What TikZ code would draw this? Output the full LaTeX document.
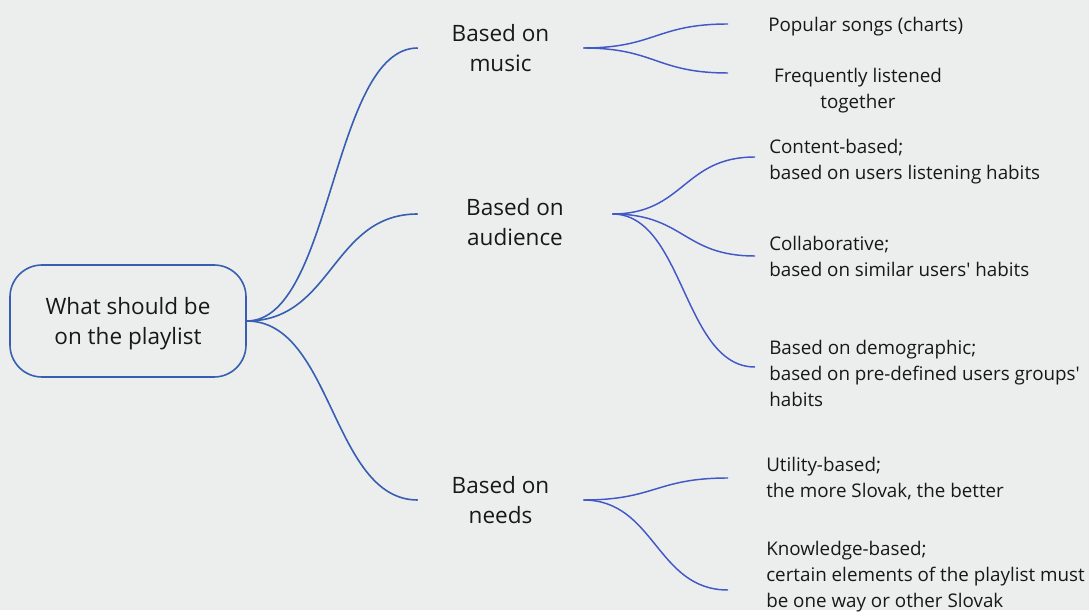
\documentclass[tikz,border=0pt]{standalone}
\usepackage{fontspec}
\setmainfont{Open Sans}
\usetikzlibrary{positioning}
\definecolor{mbg}{RGB}{236,238,238}
\definecolor{mblue}{RGB}{55,94,178}
\definecolor{mleaf}{RGB}{66,88,198}
\definecolor{mtext}{RGB}{24,24,24}

\begin{document}
\begin{tikzpicture}[x=0.75pt, y=-0.75pt,
  root/.style={draw=mblue, fill=mbg, rounded corners=24pt, line width=1.2pt,
               minimum width=177pt, minimum height=84pt, align=center,
               text depth=0pt, text=mtext, font=\fontsize{16.9}{22.5}\selectfont},
  topic/.style={align=center, text=mtext, inner sep=0pt,
                font=\fontsize{16.9}{22}\selectfont},
  leaf/.style={align=left, text=mtext, inner sep=0pt, anchor=west,
               font=\fontsize{14.1}{19.5}\selectfont},
  branch/.style={draw=mblue, line width=1.2pt},
  twig/.style={draw=mleaf, line width=1.1pt}
]
  \fill[mbg] (0,0) rectangle (1089,610);

  \node[root] (root) at (128,321) {What should be\\on the playlist};

  \node[topic, minimum width=123.75pt] (music)    at (500.5,48)  {Based on\\music};
  \node[topic, minimum width=145.5pt]  (audience) at (515,222)   {Based on\\audience};
  \node[topic, minimum width=123.75pt] (needs)    at (500.5,500) {Based on\\needs};

  % leaves
  \node[leaf] (pop) at (768,27) {Popular songs (charts)};
  \node[leaf, anchor=center, align=center] (freq) at (858,91) {Frequently listened\\together};
  \node[leaf] (content) at (769,162) {Content-based;\\based on users listening habits};
  \node[leaf] (collab) at (769,256) {Collaborative;\\based on similar users\textquotesingle{} habits};
  \node[leaf] (demo) at (769,373) {Based on demographic;\\based on pre-defined users groups\textquotesingle\\habits};
  \node[leaf] (utility) at (766,479) {Utility-based;\\the more Slovak, the better};
  \node[leaf] (knowledge) at (766,577) {Knowledge-based;\\certain elements of the playlist must\\be one way or other Slovak};

  \coordinate (pop-tip) at (728,24);
  \coordinate (freq-tip) at (728,73);
  \coordinate (content-tip) at (755,157);
  \coordinate (collab-tip) at (755,256);
  \coordinate (demo-tip) at (755,367);
  \coordinate (utility-tip) at (728,478);
  \coordinate (knowledge-tip) at (728,590);

  \draw[branch] (root.east) .. controls +(86,0) and +(-86,0) .. (music.west);
  \draw[branch] (root.east) .. controls +(86,0) and +(-86,0) .. ([yshift=6pt]audience.west);
  \draw[branch] (root.east) .. controls +(86,0) and +(-86,0) .. (needs.west);

  \draw[twig] (music.east) .. controls +(72,0) and +(-72,0) .. (pop-tip);
  \draw[twig] (music.east) .. controls +(72,0) and +(-72,0) .. (freq-tip);
  \draw[twig] ([yshift=6pt]audience.east) .. controls +(72,0) and +(-72,0) .. (content-tip);
  \draw[twig] ([yshift=6pt]audience.east) .. controls +(72,0) and +(-72,0) .. (collab-tip);
  \draw[twig] ([yshift=6pt]audience.east) .. controls +(72,0) and +(-72,0) .. (demo-tip);
  \draw[twig] (needs.east) .. controls +(72,0) and +(-72,0) .. (utility-tip);
  \draw[twig] (needs.east) .. controls +(72,0) and +(-72,0) .. (knowledge-tip);
\end{tikzpicture}
\end{document}
